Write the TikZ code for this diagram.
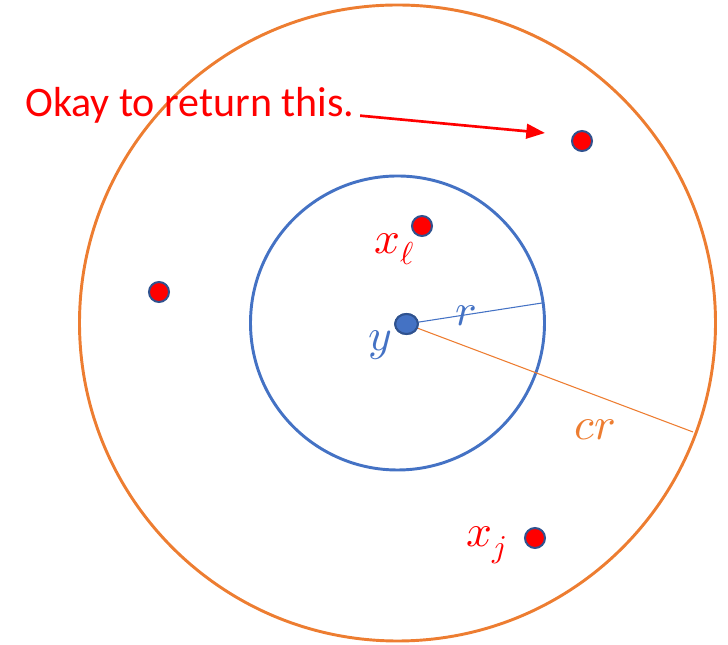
\documentclass[tikz,border=0pt]{standalone}
\usepackage{fontspec}
\usepackage{unicode-math}
\setmainfont{Carlito}
\setmathfont{Latin Modern Math}
\usetikzlibrary{arrows.meta,shapes.geometric}

\definecolor{ringorange}{HTML}{ED7D31}
\definecolor{ringblue}{HTML}{4472C4}
\definecolor{dotborder}{HTML}{2F528F}

\tikzset{
    reddot/.style={circle, draw=dotborder, line width=1.5pt, fill=red, minimum size=15pt, inner sep=0pt},
    bluedot/.style={ellipse, draw=dotborder, line width=1.5pt, fill=ringblue, minimum width=17pt, minimum height=15pt, inner sep=0pt},
    mathlabel/.style={font=\fontsize{34}{40}\selectfont, inner sep=0pt}
}

\begin{document}
\begin{tikzpicture}[x=0.75pt,y=0.75pt]
\useasboundingbox (0,0) rectangle (728,645);

% Circles
\draw[ringorange, line width=2.2pt] (397.5,322) circle (318);
\draw[ringblue, line width=2.2pt] (397.5,322) circle (147);

% Radii
\coordinate (rend) at (542,342);
\coordinate (crend) at (693,213);
\node[bluedot] (ydot) at (406.5,321) {};
\draw[ringblue, line width=0.8pt] (ydot.center) -- (rend);
\draw[ringorange, line width=0.8pt] (ydot.center) -- (crend);
\node[bluedot] at (ydot) {};

% Points
\node[reddot] (far) at (582,504) {};
\node[reddot] (xl) at (422,419) {};
\node[reddot] (left) at (159,353) {};
\node[reddot] (xj) at (535,107) {};

% Labels
\node[mathlabel, text=red] at (395,396) {$x_\ell$};
\node[mathlabel, text=ringblue] at (380,300) {$y$};
\node[mathlabel, text=ringblue] at (466,329) {$r$};
\node[mathlabel, text=ringorange] at (595,215) {$cr$};
\node[mathlabel, text=red] at (487,100) {$x_j$};

% Note
\node[anchor=base west, text=red, font=\fontsize{31.5}{38}\selectfont, inner sep=0pt] (okay) at (25,528) {Okay to return this.};
\coordinate (tip) at (545,512);
\draw[red, line width=2pt, -{Triangle[length=14pt, width=11pt]}] ([xshift=4pt, yshift=1pt]okay.base east) -- (tip);

\end{tikzpicture}
\end{document}
